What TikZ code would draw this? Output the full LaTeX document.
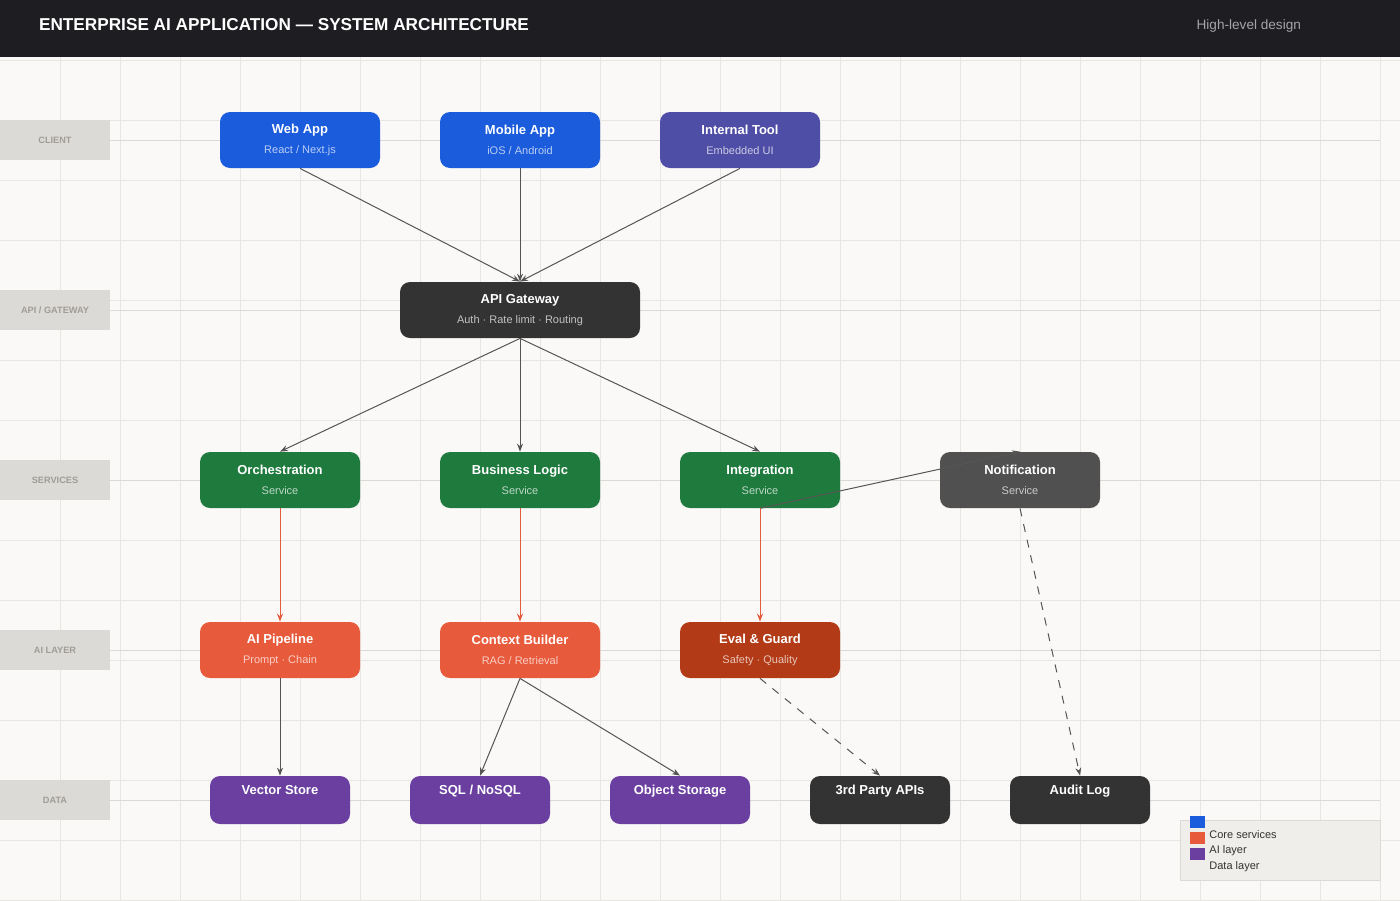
\documentclass[tikz,border=0pt]{standalone}
\usepackage{fontspec}
\setmainfont{Liberation Sans}
\usetikzlibrary{arrows.meta,positioning}
\definecolor{hdbg}{RGB}{30,30,34}
\definecolor{paper}{RGB}{250,249,247}
\definecolor{gridc}{RGB}{232,230,227}
\definecolor{lanec}{RGB}{220,218,214}
\definecolor{lanetx}{RGB}{160,157,152}
\definecolor{coreblue}{RGB}{26,92,219}
\definecolor{toolpurple}{RGB}{79,78,166}
\definecolor{darkbox}{RGB}{51,51,51}
\definecolor{greybox}{RGB}{80,80,80}
\definecolor{svcgreen}{RGB}{31,122,61}
\definecolor{aired}{RGB}{232,90,60}
\definecolor{aidark}{RGB}{178,58,22}
\definecolor{datapurple}{RGB}{106,63,160}
\definecolor{edgegray}{RGB}{85,85,85}
\definecolor{legbg}{RGB}{239,238,235}
\tikzset{
  box/.style={draw=none, fill=#1, rounded corners=5pt, text=white, align=center,
    minimum width=80pt, minimum height=28pt, inner sep=0pt,
    font=\fontsize{6.5}{10}\selectfont\bfseries},
  store/.style={box=#1, minimum width=70pt, minimum height=24pt, text height=5pt, text depth=10.4pt},
  lane/.style={fill=lanec, minimum width=55pt, minimum height=20pt, inner sep=0pt,
    text=lanetx, font=\fontsize{4.6}{5}\selectfont\bfseries},
  flow/.style={draw=edgegray, line width=0.5pt, -{Stealth[length=4pt,width=3pt]}},
  aiflow/.style={flow, draw=aired, -{Stealth[length=4pt,width=3pt,fill=aired]}},
  ext/.style={flow, dash pattern=on 4pt off 4pt}
}
\newcommand{\sub}[2]{\\{\fontsize{5.5}{6}\selectfont\mdseries\color{white!70!#1}#2}}
\begin{document}
\begin{tikzpicture}[x=0.5pt,y=-0.5pt]
\useasboundingbox (0,0) rectangle (1400,900);
% background and grid
\fill[paper] (0,0) rectangle (1400,900);
\foreach \x in {60,120,...,1380} \draw[gridc, line width=0.4pt] (\x,57) -- (\x,900);
\foreach \y in {60,120,...,900} \draw[gridc, line width=0.4pt] (0,\y) -- (1400,\y);
\foreach \y in {140,310,480,650,800} \draw[lanec, line width=0.5pt] (110,\y) -- (1380,\y);
% header
\fill[hdbg] (0,0) rectangle (1400,57);
\node[anchor=west, text=white, font=\fontsize{8.6}{10}\selectfont\bfseries] (title) at (32,25) {ENTERPRISE AI APPLICATION — SYSTEM ARCHITECTURE};
\node[anchor=east, text=white!60!hdbg, font=\fontsize{6.8}{8}\selectfont] (subtitle) at (1308,26) {High-level design};
% lanes
\node[lane] (lclient) at (55,140) {CLIENT};
\node[lane] (lapi) at (55,310) {API / GATEWAY};
\node[lane] (lsvc) at (55,480) {SERVICES};
\node[lane] (lai) at (55,650) {AI LAYER};
\node[lane] (ldata) at (55,800) {DATA};
% client
\node[box=coreblue] (web) at (300,140) {Web App\sub{coreblue}{React / Next.js}};
\node[box=coreblue] (mobile) at (520,140) {Mobile App\sub{coreblue}{iOS / Android}};
\node[box=toolpurple] (tool) at (740,140) {Internal Tool\sub{toolpurple}{Embedded UI}};
% gateway
\node[box=darkbox, minimum width=120pt] (gw) at (520,310) {API Gateway\sub{darkbox}{Auth · Rate limit · Routing}};
% services
\node[box=svcgreen] (orch) at (280,480) {Orchestration\sub{svcgreen}{Service}};
\node[box=svcgreen] (logic) at (520,480) {Business Logic\sub{svcgreen}{Service}};
\node[box=svcgreen] (integ) at (760,480) {Integration\sub{svcgreen}{Service}};
\node[box=greybox] (notif) at (1020,480) {Notification\sub{greybox}{Service}};
% ai layer
\node[box=aired] (pipe) at (280,650) {AI Pipeline\sub{aired}{Prompt · Chain}};
\node[box=aired] (ctx) at (520,650) {Context Builder\sub{aired}{RAG / Retrieval}};
\node[box=aidark] (guard) at (760,650) {Eval \& Guard\sub{aidark}{Safety · Quality}};
% data
\node[store=datapurple] (vec) at (280,800) {Vector Store};
\node[store=datapurple] (sql) at (480,800) {SQL / NoSQL};
\node[store=datapurple] (obj) at (680,800) {Object Storage};
\node[store=darkbox] (third) at (880,800) {3rd Party APIs};
\node[store=darkbox] (audit) at (1080,800) {Audit Log};
% connectors
\draw[flow] (web.south) -- (gw.north);
\draw[flow] (mobile.south) -- (gw.north);
\draw[flow] (tool.south) -- (gw.north);
\draw[flow] (gw.south) -- (orch.north);
\draw[flow] (gw.south) -- (logic.north);
\draw[flow] (gw.south) -- (integ.north);
\draw[flow] (integ.south) -- (notif.north);
\draw[aiflow] (orch.south) -- (pipe.north);
\draw[aiflow] (logic.south) -- (ctx.north);
\draw[aiflow] (integ.south) -- (guard.north);
\draw[flow] (pipe.south) -- (vec.north);
\draw[flow] (ctx.south) -- (sql.north);
\draw[flow] (ctx.south) -- (obj.north);
\draw[ext] (guard.south) -- (third.north);
\draw[ext] (notif.south) -- (audit.north);
% legend
\node[fill=legbg, draw=lanec, line width=0.5pt, minimum width=100pt, minimum height=30pt, inner sep=0pt] (legend) at (1280,850) {};
\foreach \c/\t [count=\i] in {coreblue/Core services, aired/AI layer, datapurple/Data layer}{
  \fill[\c] (1190,820+\i*16-8) rectangle ++(15,-12);
  \node[anchor=west, inner sep=0pt, font=\fontsize{5.5}{6}\selectfont, text=darkbox] (leg\i) at (1209,820+\i*16-1) {\t};
}
\end{tikzpicture}
\end{document}
